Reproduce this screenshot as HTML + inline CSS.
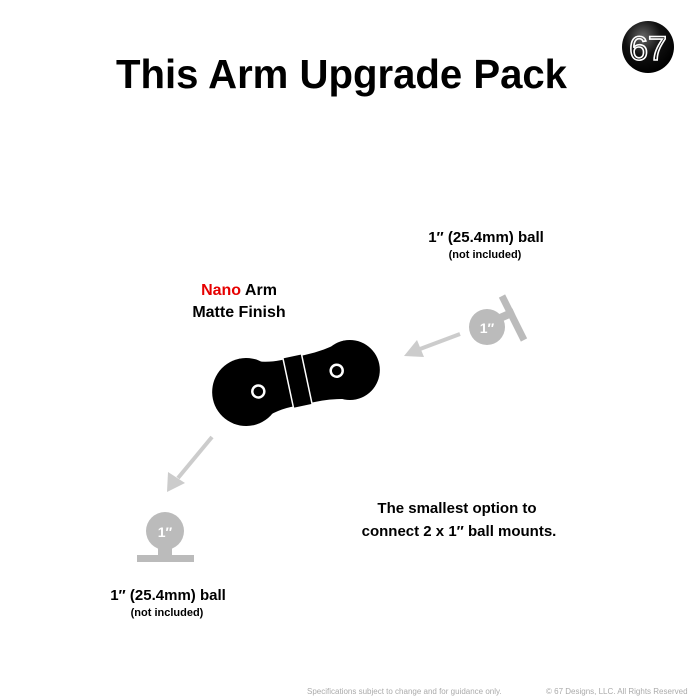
<!DOCTYPE html>
<html><head><meta charset="utf-8"><style>
html,body{margin:0;padding:0;background:#fff;}
svg{display:block;}
text{font-family:"Liberation Sans",sans-serif;font-weight:bold;}
</style></head><body>
<svg width="700" height="700" viewBox="0 0 700 700" xmlns="http://www.w3.org/2000/svg">
<defs>
<radialGradient id="lg" cx="40%" cy="30%" r="70%"><stop offset="0" stop-color="#666"/><stop offset="0.5" stop-color="#111"/><stop offset="1" stop-color="#000"/></radialGradient>
</defs>
<text x="116" y="88" font-size="41" fill="#000" textLength="451" lengthAdjust="spacingAndGlyphs">This Arm Upgrade Pack</text>
<circle cx="648" cy="47" r="26" fill="url(#lg)"/>
<text x="648" y="60" font-size="34" fill="none" stroke="#fff" stroke-width="1.6" text-anchor="middle" style="font-weight:normal">67</text>

<text x="486" y="242" font-size="15" fill="#000" text-anchor="middle">1″ (25.4mm) ball</text>
<text x="485" y="258" font-size="11" fill="#000" text-anchor="middle">(not included)</text>
<text x="239" y="295" font-size="16" text-anchor="middle"><tspan fill="#e60000">Nano</tspan><tspan fill="#000"> Arm</tspan></text>
<text x="239" y="317" font-size="16" fill="#000" text-anchor="middle">Matte Finish</text>

<line x1="500" y1="318" x2="514" y2="312" stroke="#bbb" stroke-width="8"/>
<line x1="502" y1="296" x2="524" y2="340" stroke="#bbb" stroke-width="7"/>
<circle cx="487" cy="327" r="18" fill="#bbb"/>
<text x="487" y="333" font-size="14" fill="#fff" text-anchor="middle">1″</text>
<line x1="460" y1="334" x2="420" y2="349" stroke="#ccc" stroke-width="4"/>
<polygon points="404,356 417,340 424,357" fill="#ccc"/>

<g transform="translate(0 3) rotate(-12 298 378)">
<circle cx="245" cy="378" r="34" fill="#000"/>
<circle cx="351" cy="378" r="30" fill="#000"/>
<path d="M245,344 Q268,354 285,354 L310,354 Q330,354 351,348 L351,408 Q330,402 310,402 L285,402 Q268,402 245,412 Z" fill="#000"/>
<rect x="288" y="352" width="19" height="52" fill="#000" stroke="#fff" stroke-width="1.5"/>
<circle cx="257" cy="380" r="6" fill="none" stroke="#fff" stroke-width="2.5"/>
<circle cx="338" cy="376" r="6" fill="none" stroke="#fff" stroke-width="2.5"/>
</g>

<line x1="212" y1="437" x2="178" y2="478" stroke="#ccc" stroke-width="4"/>
<polygon points="167,492 168,472 185,483" fill="#ccc"/>
<rect x="158" y="540" width="14" height="18" fill="#bbb"/>
<rect x="137" y="555" width="57" height="7" fill="#bbb"/>
<circle cx="165" cy="531" r="19" fill="#bbb"/>
<text x="165" y="537" font-size="14" fill="#fff" text-anchor="middle">1″</text>

<text x="168" y="600" font-size="15" fill="#000" text-anchor="middle">1″ (25.4mm) ball</text>
<text x="167" y="616" font-size="11" fill="#000" text-anchor="middle">(not included)</text>

<text x="457" y="513" font-size="15" fill="#000" text-anchor="middle">The smallest option to</text>
<text x="459" y="536" font-size="15" fill="#000" text-anchor="middle">connect 2 x 1″ ball mounts.</text>

<text x="307" y="694" font-size="8" fill="#aaa" style="font-weight:normal">Specifications subject to change and for guidance only.</text>
<text x="546" y="694" font-size="8" fill="#aaa" style="font-weight:normal">© 67 Designs, LLC. All Rights Reserved</text>
</svg>
</body></html>
